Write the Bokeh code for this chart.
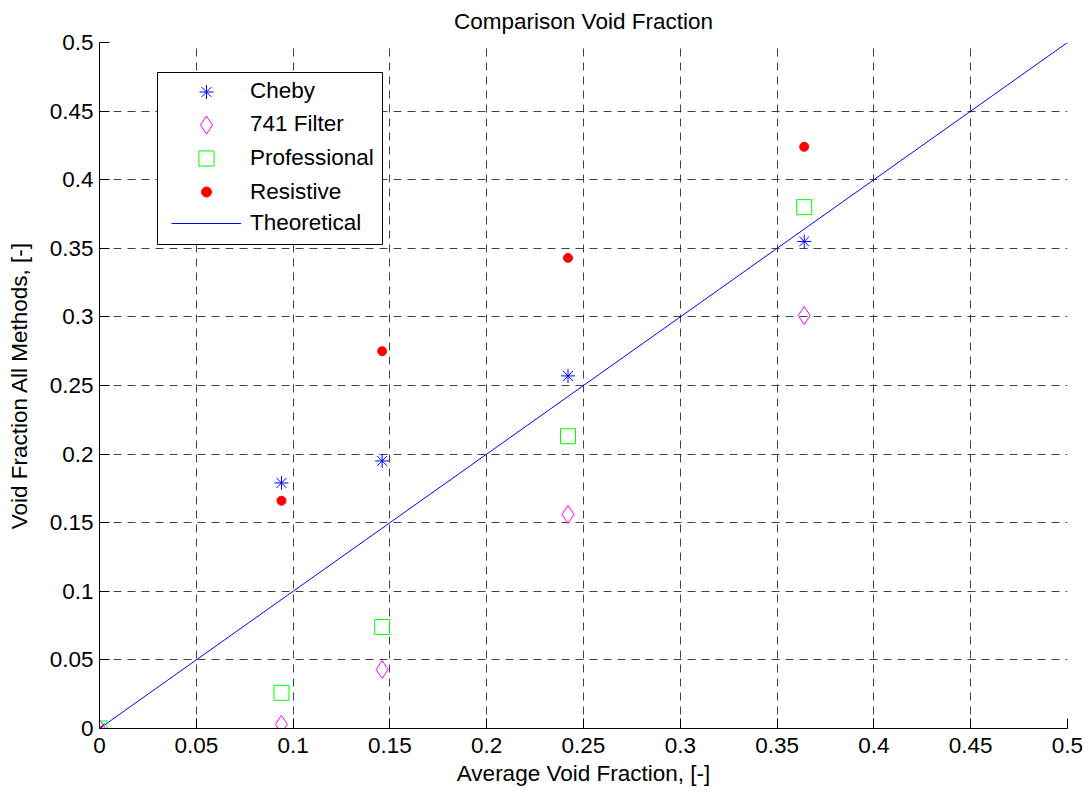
from bokeh.plotting import figure
from bokeh.models import (Range1d, FixedTicker, Legend, LegendItem, BoxAnnotation)
from bokeh.embed import file_html
from bokeh.resources import INLINE

# ---- data ----
avg_void = [0.0, 0.094, 0.146, 0.242, 0.364]
cheby = [0.0, 0.179, 0.195, 0.257, 0.355]
filter741 = [0.0, 0.003, 0.043, 0.156, 0.301]
professional = [0.0, 0.026, 0.074, 0.213, 0.380]
resistive = [-0.002, 0.166, 0.275, 0.343, 0.424]
theo_x = [0.0, 0.5]
theo_y = [0.0, 0.5]
ticks = [0, 0.05, 0.1, 0.15, 0.2, 0.25, 0.3, 0.35, 0.4, 0.45, 0.5]
tick_labels = ["0", "0.05", "0.1", "0.15", "0.2", "0.25", "0.3", "0.35", "0.4", "0.45", "0.5"]
series_names = ["Cheby", "741 Filter", "Professional", "Resistive", "Theoretical"]

FONT = "Liberation Sans"
FS = "22.5px"

p = figure(width=1085, height=794, output_backend="svg", toolbar_location=None,
           x_range=Range1d(0, 0.5), y_range=Range1d(0, 0.5),
           min_border_left=99, min_border_right=18, min_border_top=42, min_border_bottom=66,
           title="Comparison Void Fraction")
p.title.align = "center"
p.title.vertical_align = "top"
p.title.text_font = FONT
p.title.text_font_size = FS
p.title.text_font_style = "normal"
p.title.text_color = "black"
p.title.standoff = 14

p.outline_line_color = None
p.background_fill_color = "white"
p.border_fill_color = "white"

overrides = {t: l for t, l in zip(ticks, tick_labels)}
for ax in (p.xaxis[0], p.yaxis[0]):
    ax.ticker = FixedTicker(ticks=ticks)
    ax.major_label_overrides = overrides
    ax.major_tick_in = 10
    ax.major_tick_out = 0
    ax.minor_tick_line_color = None
    ax.axis_line_color = "black"
    ax.major_tick_line_color = "black"
    ax.major_label_text_font = FONT
    ax.major_label_text_font_size = FS
    ax.major_label_text_color = "black"
    ax.axis_label_text_font = FONT
    ax.axis_label_text_font_size = FS
    ax.axis_label_text_font_style = "normal"
    ax.axis_label_text_color = "black"

p.xaxis.axis_label = "Average Void Fraction, [-]"
p.yaxis.axis_label = "Void Fraction All Methods, [-]"
p.xaxis.major_label_standoff = 9
p.yaxis.major_label_standoff = 6
p.xaxis.axis_label_standoff = 5
p.yaxis.axis_label_standoff = 15

p.xgrid.ticker = FixedTicker(ticks=ticks)
p.ygrid.ticker = FixedTicker(ticks=ticks)
for g in (p.xgrid[0], p.ygrid[0]):
    g.grid_line_color = "#222222"
    g.grid_line_alpha = 0.85
    g.grid_line_dash = "8 6"
    g.grid_line_width = 1

r_theo = p.line(theo_x, theo_y, line_color="#0000ff", line_width=1)
r_cheby = p.scatter(avg_void, cheby, marker="asterisk", size=14, line_color="#0000ff", line_width=1)
r_741 = p.scatter(avg_void, filter741, marker="diamond", size=18, line_color="#ff00ff",
                  fill_color=None, line_width=1)
r_prof = p.scatter(avg_void, professional, marker="square", size=15, line_color="#00ff00",
                   fill_color=None, line_width=1)
r_res = p.scatter(avg_void, resistive, marker="circle", size=9, line_color="#ff0000",
                  fill_color="#ff0000", line_width=1)

# legend frame (screen units, relative to plot frame)
box = BoxAnnotation(left=58, right=283, bottom=484, top=656,
                    left_units="screen", right_units="screen",
                    bottom_units="screen", top_units="screen",
                    fill_color="white", fill_alpha=1.0,
                    line_color="black", line_width=1, line_alpha=1.0)
p.add_layout(box)

# one legend per entry so each marker keeps its own size
renderers = [r_cheby, r_741, r_prof, r_res, r_theo]
glyph_heights = [35, 45, 38, 25, 26]
row_centers = [637, 604, 570, 537, 505]
TEXT_H = 26
for name, rend, gh, cy in zip(series_names, renderers, glyph_heights, row_centers):
    H = max(gh, TEXT_H)
    lg = Legend(items=[LegendItem(label=name, renderers=[rend])],
                location=(72, cy - H + gh / 2))
    lg.glyph_width = 70
    lg.glyph_height = gh
    lg.label_height = gh
    lg.padding = 0
    lg.margin = 0
    lg.spacing = 0
    lg.label_standoff = 9
    lg.label_text_font = FONT
    lg.label_text_font_size = FS
    lg.label_text_color = "black"
    lg.border_line_color = None
    lg.background_fill_alpha = 0
    p.add_layout(lg, "center")

open("out.html", "w").write(file_html(p, INLINE))
